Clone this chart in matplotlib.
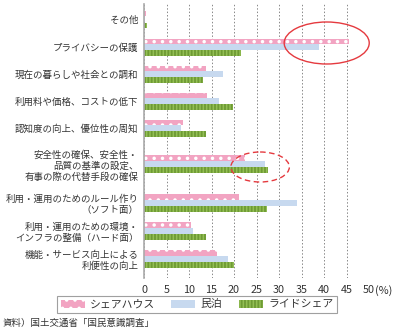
import matplotlib
matplotlib.use("Agg")
import matplotlib.pyplot as plt
from matplotlib.patches import Ellipse, Patch

plt.rcParams['font.family'] = ['Noto Sans CJK JP', 'DejaVu Sans']
plt.rcParams['hatch.linewidth'] = 1.3

# data
categories = [
    "その他",
    "プライバシーの保護",
    "現在の暮らしや社会との調和",
    "利用料や価格、コストの低下",
    "認知度の向上、優位性の周知",
    "安全性の確保、安全性・\n品質の基準の設定、\n有事の際の代替手段の確保",
    "利用・運用のためのルール作り\n（ソフト面）",
    "利用・運用のための環境・\nインフラの整備（ハード面）",
    "機能・サービス向上による\n利便性の向上",
]
share_house = [0.5, 45.5, 13.7, 13.9, 8.6, 22.4, 21.1, 10.5, 16.3]
minpaku = [0.3, 38.9, 17.5, 16.7, 8.2, 26.9, 33.9, 10.9, 18.7]
ride_share = [0.6, 21.5, 13.0, 19.7, 13.7, 27.5, 27.3, 13.7, 20.0]
series_names = ["シェアハウス", "民泊", "ライドシェア"]
xticks = [0, 5, 10, 15, 20, 25, 30, 35, 40, 45, 50]

# layout (group centres in pixel rows of the figure)
ypos = [19.5, 47.3, 74.3, 101.3, 128.3, 164, 203, 231, 259]
bar_h = 5.8
step = 5.9

pink = "#F2A4C2"
blue = "#C7D9EF"
green = "#93BF54"

fig = plt.figure(figsize=(3.97, 3.36), dpi=100)
ax = fig.add_axes([144 / 397, 1 - 278 / 336, 225 / 397, 274 / 336])

ax.barh([y - step for y in ypos], share_house, height=bar_h, color=pink,
        edgecolor="white", linewidth=0, hatch="..")
ax.barh(ypos, minpaku, height=bar_h, color=blue, linewidth=0)
ax.barh([y + step for y in ypos], ride_share, height=bar_h, color=green,
        edgecolor="#6E9A34", linewidth=0, hatch="|||||")

ax.set_xlim(0, 50)
ax.set_ylim(278, 4)
ax.set_xticks(xticks)
ax.set_xticklabels([str(t) for t in xticks], fontsize=7.8, color="#333333")
ax.annotate("(%)", xy=(50, 0), xycoords=ax.get_xaxis_transform(),
            xytext=(4, -5), textcoords="offset points", va="top", ha="left",
            fontsize=7.8, color="#333333")
ax.set_yticks(ypos)
ax.set_yticklabels(categories, fontsize=6.8, color="#333333", linespacing=1.25)
ax.tick_params(length=0, pad=4)
ax.tick_params(axis="x", pad=5)

for s in ["top", "right", "bottom"]:
    ax.spines[s].set_visible(False)
ax.spines["left"].set_color("#AAAAAA")
ax.spines["left"].set_linewidth(1.2)
ax.grid(axis="x", linestyle=(0, (1.5, 2)), color="#888888", linewidth=0.7)
ax.set_axisbelow(True)

# highlight ellipses
ax.add_patch(Ellipse((40.6, 43), 18.9, 42, fill=False, edgecolor="#E53A3F",
                     linewidth=1.0, clip_on=False))
ax.add_patch(Ellipse((25.8, 167), 13, 30, fill=False, edgecolor="#E53A3F",
                     linewidth=1.0, linestyle=(0, (4, 2.5)), clip_on=False))

handles = [
    Patch(facecolor=pink, edgecolor="white", linewidth=0, hatch=".."),
    Patch(facecolor=blue, linewidth=0),
    Patch(facecolor=green, edgecolor="#6E9A34", linewidth=0, hatch="|||||"),
]
leg = fig.legend(handles, series_names, loc="center", ncol=3,
                 bbox_to_anchor=(197 / 397, 1 - 304.5 / 336), fontsize=7.8,
                 frameon=True, fancybox=False, handlelength=2.2, handleheight=0.8,
                 columnspacing=1.5, handletextpad=0.5, borderpad=0.35)
leg.get_frame().set_edgecolor("#888888")
leg.get_frame().set_linewidth(0.8)
for t in leg.get_texts():
    t.set_color("#333333")

fig.text(3 / 397, 1 - 323 / 336, "資料）国土交通省「国民意識調査」", fontsize=6.8,
         color="#333333", va="center", ha="left")

fig.savefig("out.png", dpi=100)
